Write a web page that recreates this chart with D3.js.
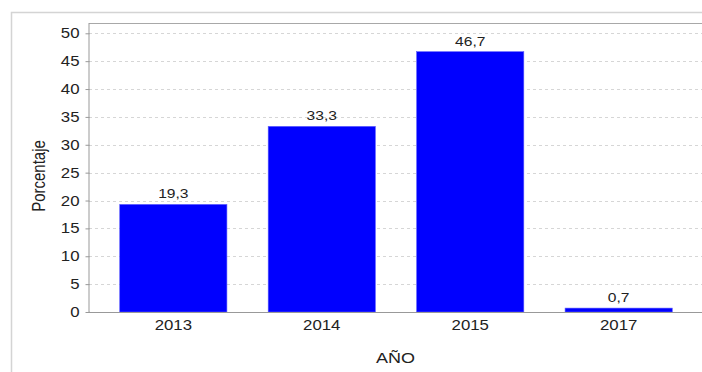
<!DOCTYPE html>
<html>
<head>
<meta charset="utf-8">
<script src="https://cdn.jsdelivr.net/npm/d3@7"></script>
<style>
  html, body { margin: 0; padding: 0; background: #fff; }
  svg { display: block; font-family: "Liberation Sans", Arial, sans-serif; }
</style>
</head>
<body>
<svg id="chart" width="702" height="372"></svg>
<script>
// Data
const years = ["2013", "2014", "2015", "2017"];
const percentages = [19.3, 33.3, 46.7, 0.7];
const yTicks = [0, 5, 10, 15, 20, 25, 30, 35, 40, 45, 50];
const xTitle = "AÑO";
const yTitle = "Porcentaje";

const FONT = "Liberation Sans, Arial, sans-serif";
const SX = 1.2; // wide glyph rendering
const svg = d3.select("#chart");
const W = 702, H = 372;
const plot = { left: 89, top: 23, right: 703, bottom: 312 };

// Outer panel frame
svg.append("rect")
  .attr("x", 11.5).attr("y", 12.5)
  .attr("width", W).attr("height", H)
  .attr("fill", "none").attr("stroke", "#d4d4d4").attr("stroke-width", 1.5);

const x = d3.scaleBand()
  .domain(years)
  .range([plot.left, plot.right])
  .paddingInner(0.278)
  .paddingOuter(0.207);

const y = d3.scaleLinear()
  .domain([0, 50])
  .range([plot.bottom, 33.3]);

// Dashed horizontal grid
svg.append("g")
  .selectAll("line")
  .data(yTicks.filter(d => d > 0))
  .join("line")
  .attr("x1", plot.left).attr("x2", plot.right)
  .attr("y1", d => Math.round(y(d)) + 0.5).attr("y2", d => Math.round(y(d)) + 0.5)
  .attr("stroke", "#d6d6d6")
  .attr("stroke-dasharray", "3,3");

// Plot top border
svg.append("line")
  .attr("x1", plot.left).attr("x2", plot.right)
  .attr("y1", plot.top + 0.5).attr("y2", plot.top + 0.5)
  .attr("stroke", "#a8a8a8");

const rows = years.map((yr, i) => ({ yr, v: percentages[i] }));

// Bars
svg.append("g")
  .selectAll("rect")
  .data(rows)
  .join("rect")
  .attr("x", d => x(d.yr))
  .attr("y", d => y(d.v))
  .attr("width", x.bandwidth())
  .attr("height", d => y(0) - y(d.v))
  .attr("fill", "#0000ff")
  .attr("stroke", "#5a5aff")
  .attr("stroke-width", 0.6);

// Value labels
svg.append("g")
  .selectAll("text")
  .data(rows)
  .join("text")
  .attr("transform", d => `translate(${x(d.yr) + x.bandwidth() / 2},${y(d.v) - 6}) scale(${SX},1)`)
  .attr("text-anchor", "middle")
  .attr("font-size", 13)
  .attr("fill", "#222")
  .text(d => d.v.toFixed(1).replace(".", ","));

// Y axis
const yAxis = svg.append("g")
  .attr("transform", `translate(${plot.left + 0.5},0)`)
  .call(d3.axisLeft(y).tickValues(yTicks).tickSize(4));
yAxis.select(".domain").attr("stroke", "#999").attr("d", `M-0.5,${plot.top}V${plot.bottom}H0`);
yAxis.selectAll(".tick line").attr("stroke", "#999");
yAxis.selectAll(".tick text")
  .attr("x", -10 / SX)
  .attr("transform", `scale(${SX},1)`)
  .attr("font-size", 14)
  .attr("font-family", FONT)
  .attr("fill", "#222");

// X axis
const xAxis = svg.append("g")
  .attr("transform", `translate(0,${plot.bottom + 0.5})`)
  .call(d3.axisBottom(x).tickSize(0).tickPadding(8));
xAxis.select(".domain").attr("stroke", "#999").attr("d", `M${plot.left},0H${plot.right}`);
xAxis.selectAll(".tick text")
  .attr("transform", `scale(${SX},1)`)
  .attr("font-size", 14)
  .attr("font-family", FONT)
  .attr("fill", "#222");

// Axis titles
svg.append("text")
  .attr("transform", `translate(${(plot.left + plot.right) / 2 - 0.5},363) scale(${SX},1)`)
  .attr("text-anchor", "middle")
  .attr("font-size", 15)
  .attr("fill", "#222")
  .text(xTitle);

svg.append("text")
  .attr("transform", `translate(45,176) rotate(-90) scale(1,${SX})`)
  .attr("text-anchor", "middle")
  .attr("font-size", 15)
  .attr("fill", "#222")
  .text(yTitle);
</script>
</body>
</html>
